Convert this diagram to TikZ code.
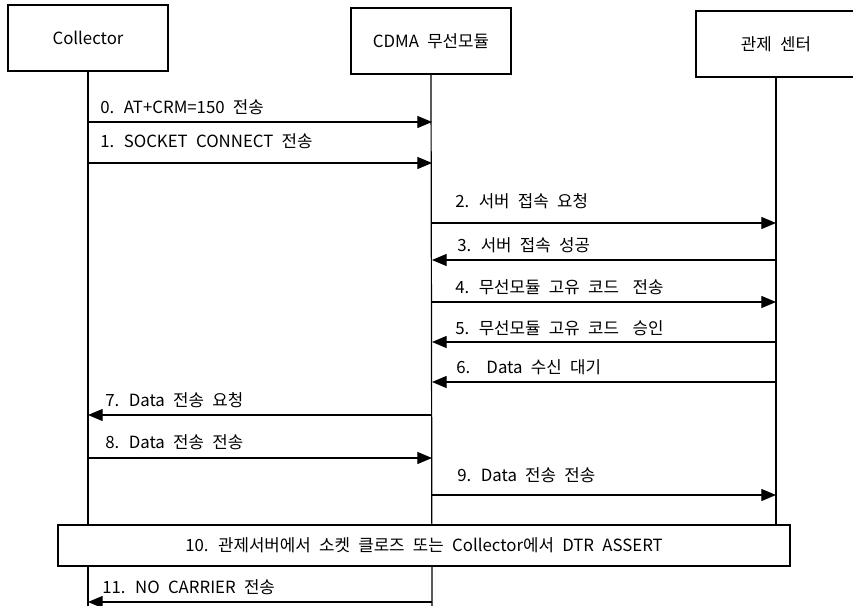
\documentclass[tikz,border=0pt]{standalone}
\usepackage{fontspec}
\setmainfont[WordSpace=2.2]{Noto Sans CJK KR}
\usetikzlibrary{arrows.meta,positioning}

\begin{document}
\begin{tikzpicture}[
    x=0.75pt,y=-0.75pt,
    font=\fontsize{12.6}{14}\selectfont,
    actor/.style={draw=black,line width=1.5pt,fill=white,minimum width=120pt,minimum height=49pt,inner sep=0pt},
    life/.style={line width=0.9pt},
    msg/.style={-{Triangle[length=11pt,width=9pt]},line width=0.9pt},
    lbl/.style={anchor=base west,inner sep=0pt}
  ]
  \useasboundingbox (0,0) rectangle (853,606);
  \node[actor] (col) at (88,38) {Collector};
  \node[actor] (cdma) at (431,41) {CDMA 무선모듈};
  \node[actor] (ctr) at (776,44) {관제 센터};
  \coordinate (colend) at (88,606);
  \coordinate (cdmaend) at (432,606);
  \coordinate (ctrend) at (776,525);
  \draw[life] (col.south) -- (colend);
  \draw[life] (cdma.south) -- (cdmaend);
  \draw[life] (ctr.south) -- (ctrend);
  \foreach \i/\y in {0/122,1/163,2/223,3/260,4/302,5/342,6/382,7/415,8/458,9/495,11/602}{
    \coordinate (a\i) at (88,\y);
    \coordinate (b\i) at (432,\y);
    \coordinate (c\i) at (776,\y);
  }
  \draw[msg] (a0) -- (b0);
  \draw[msg] (a1) -- (b1);
  \draw[msg] (b2) -- (c2);
  \draw[msg] (c3) -- (b3);
  \draw[msg] (b4) -- (c4);
  \draw[msg] (c5) -- (b5);
  \draw[msg] (c6) -- (b6);
  \draw[msg] (b7) -- (a7);
  \draw[msg] (a8) -- (b8);
  \draw[msg] (b9) -- (c9);
  \draw[msg] (b11) -- (a11);
  \node[lbl] (m0) at (100,114) {0. AT+CRM=150 전송};
  \node[lbl] (m1) at (100,148) {1. SOCKET CONNECT 전송};
  \node[lbl] (m2) at (455,208) {2. 서버 접속 요청};
  \node[lbl] (m3) at (457,251) {3. 서버 접속 성공};
  \node[lbl] (m4) at (455,293) {4. 무선모듈 고유 코드\hspace{4pt} 전송};
  \node[lbl] (m5) at (455,334) {5. 무선모듈 고유 코드\hspace{4pt} 승인};
  \node[lbl] (m6) at (456,373) {6.\hspace{5pt} Data 수신 대기};
  \node[lbl] (m7) at (105,406) {7. Data 전송 요청};
  \node[lbl] (m8) at (105,448) {8. Data 전송 전송};
  \node[lbl] (m9) at (457,481) {9. Data 전송 전송};
  \node[draw=black,line width=1.5pt,fill=white,minimum width=549pt,minimum height=30.75pt] (close) at (424,545)
    {10. 관제서버에서 소켓 클로즈 또는 Collector에서 DTR ASSERT};
  \node[lbl] (m11) at (102,593) {11. NO CARRIER 전송};
\end{tikzpicture}
\end{document}
